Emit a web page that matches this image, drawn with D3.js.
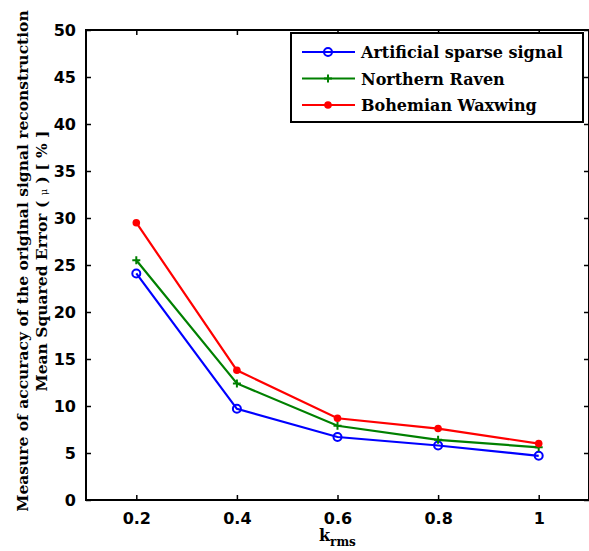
<!doctype html>
<html>
<head>
<style>
  body { margin: 0; background: #fff; }
  svg { display: block; }
  .tick text { font-family: "DejaVu Sans", sans-serif; font-weight: bold; font-size: 16px; }
</style>
<script src="https://d3js.org/d3.v7.min.js"></script>
</head>
<body>
<svg width="589" height="551" class="chart"></svg>
<script>
var kValues = [0.2, 0.4, 0.6, 0.8, 1.0];
var artificial = [24.1, 9.7, 6.7, 5.8, 4.7];
var raven = [25.5, 12.4, 7.9, 6.4, 5.6];
var waxwing = [29.5, 13.8, 8.7, 7.6, 6.0];
var xTicks = [0.2, 0.4, 0.6, 0.8, 1];
var yTicks = [0, 5, 10, 15, 20, 25, 30, 35, 40, 45, 50];

var series = [
  {name: "Artificial sparse signal", values: artificial, color: "#0000ff", marker: "circle"},
  {name: "Northern Raven", values: raven, color: "#008000", marker: "plus"},
  {name: "Bohemian Waxwing", values: waxwing, color: "#ff0000", marker: "dot"}
];

var svg = d3.select(".chart");
var pLeft = 86, pRight = 589, pTop = 30, pBottom = 500;

var x = d3.scaleLinear().domain([0.1, 1.1]).range([pLeft, pRight]);
var y = d3.scaleLinear().domain([0, 50]).range([pBottom, pTop]);

// axes with inward ticks on all four sides
svg.append("g")
   .attr("transform", "translate(0," + pBottom + ")")
   .call(d3.axisBottom(x).tickValues(xTicks).tickSizeInner(-5).tickSizeOuter(0).tickPadding(13)
        .tickFormat(function(d) { return d === 1 ? "1" : d3.format(".1f")(d); }));
svg.append("g")
   .attr("transform", "translate(0," + pTop + ")")
   .call(d3.axisTop(x).tickValues(xTicks).tickSizeInner(-5).tickSizeOuter(0).tickFormat(""));
svg.append("g")
   .attr("transform", "translate(" + pLeft + ",0)")
   .call(d3.axisLeft(y).tickValues(yTicks).tickSizeInner(-5).tickSizeOuter(0).tickPadding(10));
svg.append("g")
   .attr("transform", "translate(" + pRight + ",0)")
   .call(d3.axisRight(y).tickValues(yTicks).tickSizeInner(-5).tickSizeOuter(0).tickFormat(""));

svg.selectAll(".domain").remove();
svg.selectAll(".tick line").attr("stroke", "#000").attr("stroke-width", 1.5);
svg.selectAll(".tick text").attr("fill", "#000");

svg.append("rect")
   .attr("x", pLeft).attr("y", pTop)
   .attr("width", pRight - pLeft).attr("height", pBottom - pTop)
   .attr("fill", "none").attr("stroke", "#000").attr("stroke-width", 2);

var line = d3.line()
   .x(function(d, i) { return x(kValues[i]); })
   .y(function(d) { return y(d); });

function drawMarker(g, type, color, cx, cy) {
  if (type === "circle") {
    g.append("circle").attr("cx", cx).attr("cy", cy).attr("r", 4)
     .attr("fill", "none").attr("stroke", color).attr("stroke-width", 2);
  } else if (type === "dot") {
    g.append("circle").attr("cx", cx).attr("cy", cy).attr("r", 3.8).attr("fill", color);
  } else {
    g.append("path").attr("d", "M" + (cx - 4) + "," + cy + "h8M" + cx + "," + (cy - 4) + "v8")
     .attr("stroke", color).attr("stroke-width", 2);
  }
}

series.forEach(function(s) {
  var g = svg.append("g");
  g.append("path").datum(s.values)
   .attr("d", line).attr("fill", "none")
   .attr("stroke", s.color).attr("stroke-width", 2.2);
  s.values.forEach(function(v, i) { drawMarker(g, s.marker, s.color, x(kValues[i]), y(v)); });
});

// legend
var legend = svg.append("g");
legend.append("rect")
   .attr("x", 291).attr("y", 33).attr("width", 292).attr("height", 89)
   .attr("fill", "#fff").attr("stroke", "#000").attr("stroke-width", 2);
series.forEach(function(s, i) {
  var ly = 52 + i * 26.5;
  legend.append("line").attr("x1", 302).attr("x2", 355).attr("y1", ly).attr("y2", ly)
     .attr("stroke", s.color).attr("stroke-width", 2.2);
  drawMarker(legend, s.marker, s.color, 328, ly);
  legend.append("text").attr("x", 361).attr("y", ly + 6)
     .attr("font-family", "DejaVu Serif, serif").attr("font-weight", "bold")
     .attr("font-size", "16px").text(s.name);
});

// axis labels
var xl = svg.append("text").attr("x", 319).attr("y", 541)
   .attr("font-family", "DejaVu Serif, serif").attr("font-weight", "bold").attr("font-size", "16px");
xl.append("tspan").text("k");
xl.append("tspan").attr("font-size", "12px").attr("dy", 5).text("rms");

var yl = svg.append("text")
   .attr("transform", "translate(28," + 261 + ") rotate(-90)")
   .attr("text-anchor", "middle")
   .attr("font-family", "DejaVu Serif, serif").attr("font-weight", "bold").attr("font-size", "15.5px");
yl.append("tspan").attr("x", 0).attr("y", 0).text("Measure of accuracy of the original signal reconstruction");
var l2 = yl.append("tspan").attr("x", 0).attr("y", 19);
l2.append("tspan").text("Mean Squared Error ( ");
l2.append("tspan").attr("font-size", "10px").attr("font-weight", "normal").text("μ");
l2.append("tspan").text(" ) [ % ]");
</script>
</body>
</html>
